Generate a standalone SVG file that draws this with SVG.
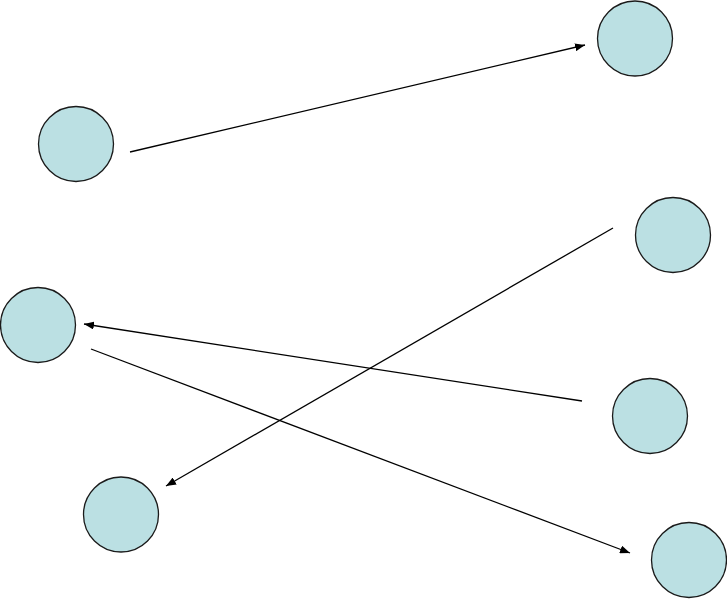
<svg xmlns="http://www.w3.org/2000/svg" width="727" height="599" viewBox="0 0 727 599">
<style>
.n{fill:#bbe0e3;stroke:#1a1a1a;stroke-width:1.3}
.c{stroke:#000;stroke-width:1.3;fill:none;marker-end:url(#a)}
</style>
<defs>
<marker id="a" viewBox="0 0 10 8" refX="10" refY="4" markerWidth="10" markerHeight="8" markerUnits="userSpaceOnUse" orient="auto">
<path d="M0,0 L10,4 L0,8 Z" fill="#000"/>
</marker>
</defs>
<rect width="727" height="599" fill="#fff"/>
<g id="connectors">
<line class="c" x1="130" y1="152" x2="585" y2="45"/>
<line class="c" x1="613" y1="228" x2="166" y2="486"/>
<line class="c" x1="582" y1="401" x2="84" y2="324"/>
<line class="c" x1="91" y1="349" x2="630" y2="553"/>
</g>
<g id="node1"><circle class="n" cx="76" cy="144" r="37.5"/></g>
<g id="node2"><circle class="n" cx="635" cy="38.5" r="37.5"/></g>
<g id="node3"><circle class="n" cx="673" cy="235" r="37.5"/></g>
<g id="node4"><circle class="n" cx="38" cy="325" r="37.5"/></g>
<g id="node5"><circle class="n" cx="650" cy="416" r="37.5"/></g>
<g id="node6"><circle class="n" cx="121" cy="514.5" r="37.5"/></g>
<g id="node7"><circle class="n" cx="689" cy="560" r="37.5"/></g>
</svg>
